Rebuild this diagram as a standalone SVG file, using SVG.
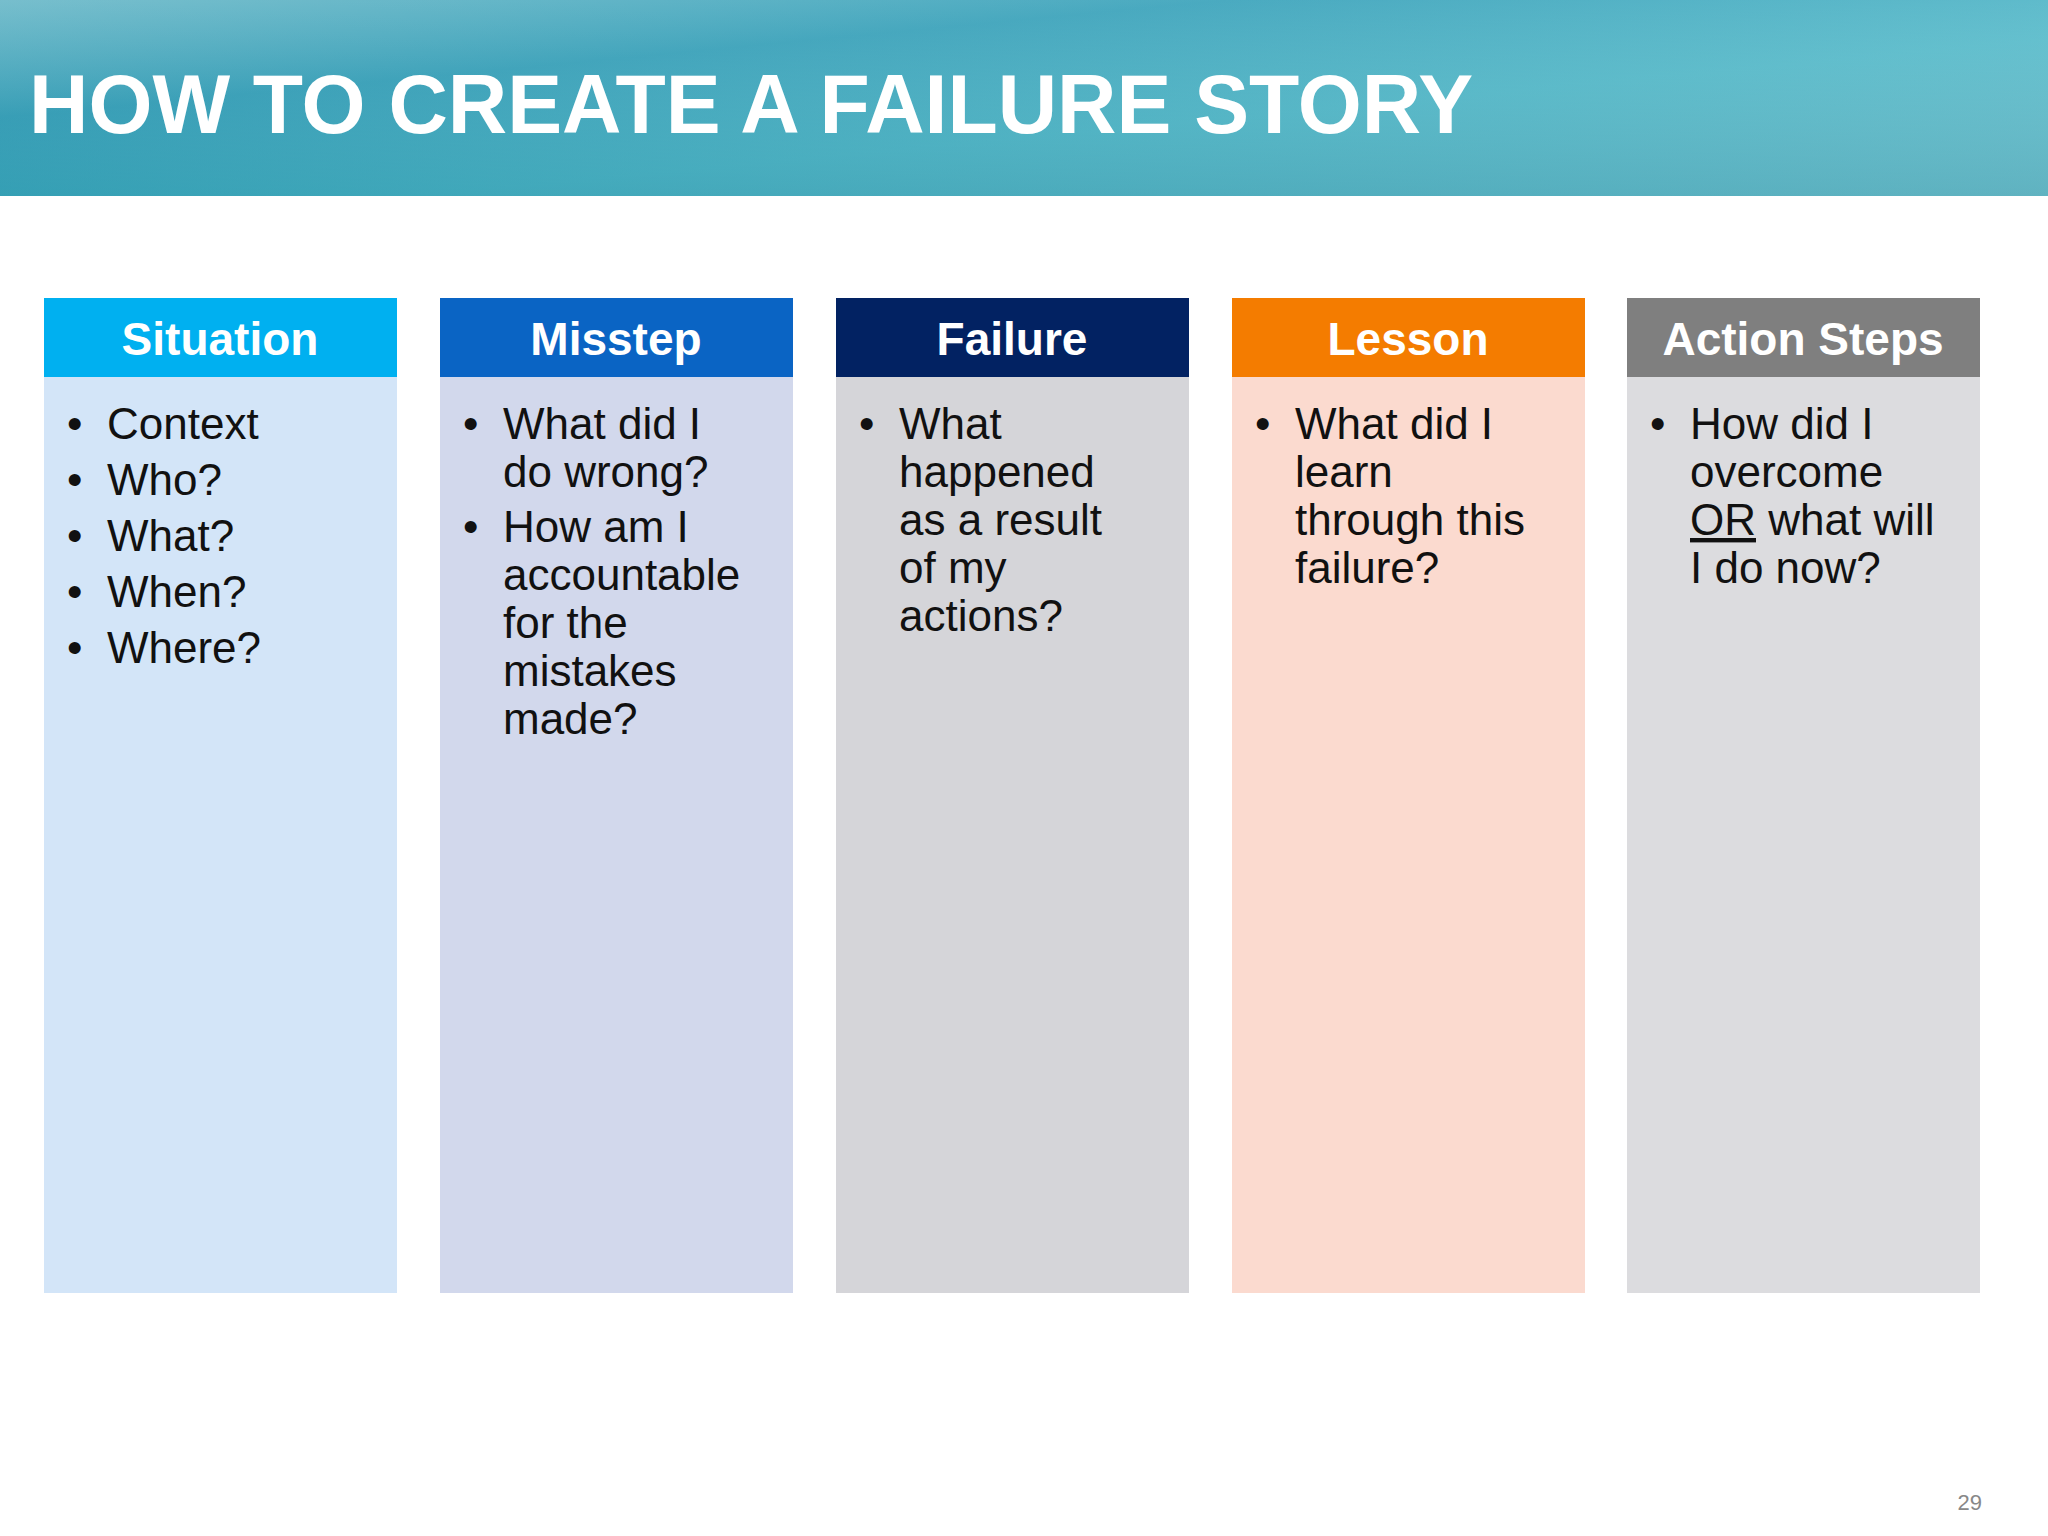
<svg xmlns="http://www.w3.org/2000/svg" width="2048" height="1536" viewBox="0 0 2048 1536">
<defs>
<linearGradient id="sea" x1="0" y1="0" x2="1" y2="1">
<stop offset="0" stop-color="#5fb3c4"/><stop offset="0.3" stop-color="#2a9bb5"/><stop offset="0.6" stop-color="#4fb9c9"/><stop offset="1" stop-color="#7cc9d3"/>
</linearGradient>
<linearGradient id="shade" x1="0" y1="0" x2="0" y2="1">
<stop offset="0" stop-color="#ffffff" stop-opacity="0.15"/><stop offset="1" stop-color="#0b6f8a" stop-opacity="0.25"/>
</linearGradient>
<style>
.hd{font-family:"Liberation Sans",Arial,sans-serif;font-weight:bold;font-size:46px;fill:#fff;text-anchor:middle}
.tx{font-family:"Liberation Sans",Arial,sans-serif;font-size:44px;fill:#111}
</style>
</defs>
<rect width="2048" height="1536" fill="#fff"/>
<rect width="2048" height="196" fill="url(#sea)"/>
<rect width="2048" height="196" fill="url(#shade)"/>
<text x="29" y="133" font-family="Liberation Sans,Arial,sans-serif" font-weight="bold" font-size="84" fill="#fff" textLength="1444" lengthAdjust="spacingAndGlyphs">HOW TO CREATE A FAILURE STORY</text>
<g id="situation">
<rect x="44" y="377" width="353" height="916" fill="#d3e5f8"/>
<rect x="44" y="298" width="353" height="79" fill="#00b0f0"/>
<text class="hd" x="220" y="355">Situation</text>
<g class="tx"><text x="67" y="439">•</text><text x="107" y="439">Context</text>
<text x="67" y="495">•</text><text x="107" y="495">Who?</text>
<text x="67" y="551">•</text><text x="107" y="551">What?</text>
<text x="67" y="607">•</text><text x="107" y="607">When?</text>
<text x="67" y="663">•</text><text x="107" y="663">Where?</text></g>
</g>
<g id="misstep">
<rect x="440" y="377" width="353" height="916" fill="#d2d8ec"/>
<rect x="440" y="298" width="353" height="79" fill="#0a64c4"/>
<text class="hd" x="616" y="355">Misstep</text>
<g class="tx"><text x="463" y="439">•</text><text x="503" y="439">What did I</text><text x="503" y="487">do wrong?</text>
<text x="463" y="542">•</text><text x="503" y="542">How am I</text><text x="503" y="590">accountable</text><text x="503" y="638">for the</text><text x="503" y="686">mistakes</text><text x="503" y="734">made?</text></g>
</g>
<g id="failure">
<rect x="836" y="377" width="353" height="916" fill="#d5d5d9"/>
<rect x="836" y="298" width="353" height="79" fill="#022262"/>
<text class="hd" x="1012" y="355">Failure</text>
<g class="tx"><text x="859" y="439">•</text><text x="899" y="439">What</text><text x="899" y="487">happened</text><text x="899" y="535">as a result</text><text x="899" y="583">of my</text><text x="899" y="631">actions?</text></g>
</g>
<g id="lesson">
<rect x="1232" y="377" width="353" height="916" fill="#fbdacf"/>
<rect x="1232" y="298" width="353" height="79" fill="#f47c00"/>
<text class="hd" x="1408" y="355">Lesson</text>
<g class="tx"><text x="1255" y="439">•</text><text x="1295" y="439">What did I</text><text x="1295" y="487">learn</text><text x="1295" y="535">through this</text><text x="1295" y="583">failure?</text></g>
</g>
<g id="action">
<rect x="1627" y="377" width="353" height="916" fill="#dcdcdf"/>
<rect x="1627" y="298" width="353" height="79" fill="#7f7f7f"/>
<text class="hd" x="1803" y="355">Action Steps</text>
<g class="tx"><text x="1650" y="439">•</text><text x="1690" y="439">How did I</text><text x="1690" y="487">overcome</text><text x="1690" y="535"><tspan text-decoration="underline">OR</tspan> what will</text><text x="1690" y="583">I do now?</text></g>
</g>
<g id="connectors"/>
<text x="1982" y="1510" font-family="Liberation Sans,Arial,sans-serif" font-size="22" fill="#888" text-anchor="end">29</text>
</svg>
